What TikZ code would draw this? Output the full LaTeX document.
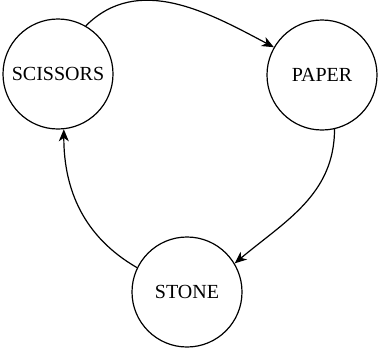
\documentclass[tikz,border=0pt]{standalone}
\usepackage{fontspec}
\setmainfont{Liberation Serif}
\usepackage{tikz}
\usetikzlibrary{arrows.meta,positioning}
\tikzset{
  gamestate/.style={draw, circle, line width=1.2pt, minimum size=110pt, inner sep=0pt, align=center, font=\fontsize{20}{23}\selectfont},
  beats/.style={-{Stealth[length=12pt,width=10pt,inset=3.5pt]}, line width=1.2pt}
}
\begin{document}
\begin{tikzpicture}[x=1pt,y=-1pt]
\useasboundingbox (0,0) rectangle (379,349);
\node[gamestate] (scissors) at (58,74) {SCISSORS};
\node[gamestate] (paper) at (322,75) {PAPER};
\node[gamestate] (stone) at (187,292) {STONE};
\draw[beats] (scissors.60) to[out=45,in=152] (paper.150);
\draw[beats] (paper.-77) to[out=-90,in=40] (stone.31);
\draw[beats] (stone.154) to[out=150,in=-90] (scissors.-84);
\end{tikzpicture}
\end{document}
